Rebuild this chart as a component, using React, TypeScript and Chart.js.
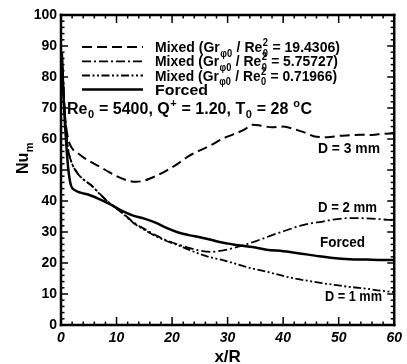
import React, { useEffect, useRef } from "react";
import { Chart, registerables } from "chart.js";

Chart.register(...registerables);

// ---- data ----
const xMixed19 = [0.15, 0.4, 0.8, 1.3, 2, 3, 4.5, 6, 8, 10, 12, 13.5, 15, 17, 19, 21, 23, 25, 27, 29, 31, 33, 34.5, 36, 38, 40, 42, 44, 46, 48, 50, 52, 54, 56, 58, 60];
const yMixed19 = [88, 76, 66, 60, 57, 55.5, 53.5, 52, 50, 48, 46.6, 46.2, 46.6, 48, 49.8, 52, 54.5, 56.3, 58, 60, 61.5, 63, 64.6, 64.3, 63.8, 64, 63.2, 62, 60.7, 60.6, 61, 61.2, 61.4, 61.3, 61.7, 61.8];

const xMixed57 = [0.15, 0.5, 0.9, 1.3, 2, 3, 4, 5.5, 7, 9, 11, 13, 15, 17, 19, 21, 23, 25, 27, 29, 31, 33, 35, 37, 39, 41, 43, 45, 47, 49, 51, 53, 55, 57, 59, 60];
const yMixed57 = [88, 75, 63, 56.5, 52, 48.9, 47, 45, 42.3, 39, 36.3, 33.2, 31, 29, 27.3, 26, 24.9, 24, 23.6, 24, 24.8, 25.8, 27, 28.3, 29.6, 30.8, 32, 32.8, 33.3, 34, 34.4, 34.5, 34.4, 34.2, 33.9, 33.8];

const xMixed07 = [0.15, 0.5, 0.9, 1.3, 2, 3, 4, 5.5, 7, 9, 11, 13, 15, 17, 19, 21, 23, 25, 27, 29, 31, 33, 35, 37, 39, 41, 43, 45, 47, 49, 51, 53, 55, 57, 59, 60];
const yMixed07 = [88, 75, 63, 56.5, 52, 48.9, 47, 45, 42.2, 38.9, 36.1, 33, 30.7, 28.7, 27.1, 25.8, 24.3, 22.9, 21.8, 21, 20, 18.9, 18, 17.2, 16.3, 15.4, 14.7, 14.1, 13.5, 13, 12.5, 12.1, 11.7, 11.2, 10.8, 10.6];

const xForced = [0.15, 0.5, 1, 1.4, 1.8, 2.5, 3.5, 5, 7, 9, 11, 13, 15, 17, 19, 21, 23, 25, 27, 29, 31, 33, 35, 37, 40, 43, 46, 49, 52, 55, 58, 60];
const yForced = [88, 72, 57, 49, 45, 43.5, 42.7, 42, 40.5, 38.8, 36.8, 35.3, 34.3, 33, 31.3, 29.9, 29, 28.3, 27.5, 26.6, 26, 25.5, 25, 24.3, 23.8, 23.1, 22.3, 21.6, 21.2, 21.1, 21, 21];

const legendValues = ["19.4306", "5.75727", "0.71966"];
const curveLabels = ["D = 3 mm", "D = 2 mm", "Forced", "D = 1 mm"];
const xRange = [0, 60];
const yRange = [0, 100];

const FAM = '"Liberation Sans", Arial, Helvetica, sans-serif';

type Seg = { t: string; k?: "sub" | "sup" | "ss"; t2?: string };

function richWidth(ctx: CanvasRenderingContext2D, segs: Seg[], size: number) {
  const main = `bold ${size}px ${FAM}`;
  const small = `bold ${Math.round(size * 0.66)}px ${FAM}`;
  let w = 0;
  for (const s of segs) {
    if (!s.k) {
      ctx.font = main;
      w += ctx.measureText(s.t).width;
    } else {
      ctx.font = small;
      let sw = ctx.measureText(s.t).width;
      if (s.t2) sw = Math.max(sw, ctx.measureText(s.t2).width);
      w += sw + 1;
    }
  }
  return w;
}

function drawRich(ctx: CanvasRenderingContext2D, segs: Seg[], left: number, baseline: number, size: number, targetW?: number) {
  const W = richWidth(ctx, segs, size);
  const sx = targetW ? targetW / W : 1;
  const main = `bold ${size}px ${FAM}`;
  const small = `bold ${Math.round(size * 0.66)}px ${FAM}`;
  ctx.save();
  ctx.translate(left, baseline);
  ctx.scale(sx, 1);
  ctx.fillStyle = "#000";
  ctx.textBaseline = "alphabetic";
  ctx.textAlign = "left";
  let cx = 0;
  for (const s of segs) {
    if (!s.k) {
      ctx.font = main;
      ctx.fillText(s.t, cx, 0);
      cx += ctx.measureText(s.t).width;
    } else {
      ctx.font = small;
      let sw = ctx.measureText(s.t).width;
      if (s.k === "sub") ctx.fillText(s.t, cx + 0.5, size * 0.3);
      else if (s.k === "sup") ctx.fillText(s.t, cx + 0.5, -size * 0.4);
      else {
        ctx.fillText(s.t, cx + 0.5, -size * 0.4);
        if (s.t2) {
          ctx.fillText(s.t2, cx + 0.5, size * 0.3);
          sw = Math.max(sw, ctx.measureText(s.t2).width);
        }
      }
      cx += sw + 1;
    }
  }
  ctx.restore();
  return W * sx;
}

const FRAME = "#000";
const TICK = "#000";

const decorPlugin = {
  id: "decor",
  beforeDraw(chart: any) {
    const ctx = chart.ctx as CanvasRenderingContext2D;
    ctx.save();
    ctx.fillStyle = "#fff";
    ctx.fillRect(0, 0, chart.width, chart.height);
    ctx.restore();
  },
  afterDraw(chart: any) {
    const ctx = chart.ctx as CanvasRenderingContext2D;
    const ca = chart.chartArea;
    const left = ca.left, right = ca.right, top = ca.top, bottom = ca.bottom;
    const xs = chart.scales.x;
    const ys = chart.scales.y;
    ctx.save();
    ctx.setLineDash([]);
    ctx.fillStyle = TICK;
    for (let v = yRange[0]; v <= yRange[1]; v += 2) {
      const py = ys.getPixelForValue(v);
      const len = v % 10 === 0 ? 7 : 3.5;
      ctx.fillRect(left, py - 0.75, len, 1.5);
      ctx.fillRect(right - len, py - 0.75, len, 1.5);
    }
    for (let v = xRange[0]; v <= xRange[1]; v += 2) {
      const px = xs.getPixelForValue(v);
      const len = v % 10 === 0 ? 8 : 3.5;
      ctx.fillRect(px - 0.75, bottom - len, 1.5, len);
      ctx.fillRect(px - 0.75, top, 1.5, len);
    }
    ctx.fillStyle = FRAME;
    const fw = 2.5;
    ctx.fillRect(left - fw / 2, top - fw / 2, right - left + fw, fw);
    ctx.fillRect(left - fw / 2, bottom - fw / 2, right - left + fw, fw);
    ctx.fillRect(left - fw / 2, top - fw / 2, fw, bottom - top + fw);
    ctx.fillRect(right - fw / 2, top - fw / 2, fw, bottom - top + fw);

    const rows = [47, 61.3, 75.5, 89.6];
    const dashes = [[10, 5], [9, 3, 2, 3], [8, 2.5, 2, 2.5, 2, 2.5], []];
    const widths = [2, 1.8, 1.8, 2.5];
    for (let i = 0; i < 4; i++) {
      ctx.save();
      ctx.strokeStyle = "#000";
      ctx.lineWidth = widths[i];
      ctx.setLineDash(dashes[i]);
      ctx.beginPath();
      ctx.moveTo(82, rows[i]);
      ctx.lineTo(143, rows[i]);
      ctx.stroke();
      ctx.restore();
    }
    const targets = [185, 183, 182];
    for (let i = 0; i < 3; i++) {
      drawRich(
        ctx,
        [
          { t: "Mixed (Gr" },
          { t: "φ0", k: "sub" },
          { t: " / Re" },
          { t: "2", k: "ss", t2: "0" },
          { t: " = " + legendValues[i] + ")" },
        ],
        155,
        rows[i] + 5,
        15,
        targets[i]
      );
    }
    drawRich(ctx, [{ t: "Forced" }], 155, rows[3] + 5, 15, 53);

    drawRich(
      ctx,
      [
        { t: "Re" },
        { t: "0", k: "sub" },
        { t: " = 5400, Q" },
        { t: "+", k: "sup" },
        { t: " = 1.20, T" },
        { t: "0", k: "sub" },
        { t: " = 28 " },
        { t: "o", k: "sup" },
        { t: "C" },
      ],
      67,
      113.5,
      16,
      245
    );

    const lab = [
      [318, 148, 62],
      [318, 207, 59],
      [320, 242, 45],
      [325, 296, 57],
    ];
    for (let i = 0; i < 4; i++) {
      drawRich(ctx, [{ t: curveLabels[i] }], lab[i][0], lab[i][1] + 5, 14, lab[i][2]);
    }

    const wx = richWidth(ctx, [{ t: "x/R" }], 17);
    drawRich(ctx, [{ t: "x/R" }], (left + right) / 2 - wx / 2, 362, 17);

    ctx.save();
    ctx.translate(22, 158);
    ctx.rotate(-Math.PI / 2);
    const ny: Seg[] = [{ t: "Nu" }, { t: "m", k: "sub" }];
    const wn = richWidth(ctx, ny, 16);
    drawRich(ctx, ny, -wn / 2, 6, 16);
    ctx.restore();

    ctx.restore();
  },
};

function pts(xs: number[], ys: number[]) {
  return xs.map((x, i) => ({ x, y: ys[i] }));
}

export default function App() {
  const ref = useRef<HTMLCanvasElement | null>(null);
  useEffect(() => {
    if (!ref.current) return;
    const common = { pointRadius: 0, borderColor: "#000", fill: false, cubicInterpolationMode: "monotone" as const };
    const chart = new Chart(ref.current, {
      type: "line",
      data: {
        datasets: [
          { ...common, label: "Mixed 19.4306", data: pts(xMixed19, yMixed19), borderWidth: 2, borderDash: [10, 5] },
          { ...common, label: "Mixed 5.75727", data: pts(xMixed57, yMixed57), borderWidth: 1.8, borderDash: [9, 3, 2, 3] },
          { ...common, label: "Mixed 0.71966", data: pts(xMixed07, yMixed07), borderWidth: 1.8, borderDash: [8, 2.5, 2, 2.5, 2, 2.5] },
          { ...common, label: "Forced", data: pts(xForced, yForced), borderWidth: 2.5 },
        ],
      },
      options: {
        responsive: false,
        animation: false,
        devicePixelRatio: 1,
        layout: { padding: { left: 0, top: 15, right: 9, bottom: 0 } },
        plugins: { legend: { display: false }, tooltip: { enabled: false } },
        scales: {
          x: {
            type: "linear",
            min: xRange[0],
            max: xRange[1],
            ticks: {
              stepSize: 10,
              color: "#000",
              padding: 5,
              maxRotation: 0,
              font: { family: FAM, size: 14, weight: "bold", style: "italic" },
            },
            grid: { display: false, drawTicks: false },
            border: { display: false },
            afterFit: (s: any) => {
              s.height = 39;
            },
          },
          y: {
            type: "linear",
            min: yRange[0],
            max: yRange[1],
            ticks: {
              stepSize: 10,
              color: "#000",
              padding: 4,
              font: { family: FAM, size: 14, weight: "bold" },
            },
            grid: { display: false, drawTicks: false },
            border: { display: false },
            afterFit: (s: any) => {
              s.width = 61;
            },
          },
        },
      },
      plugins: [decorPlugin],
    });
    return () => chart.destroy();
  }, []);
  return (
    <div style={{ position: "fixed", left: 0, top: 0, width: 407, height: 364, background: "#fff" }}>
      <canvas ref={ref} width={407} height={364} style={{ display: "block" }} />
    </div>
  );
}
